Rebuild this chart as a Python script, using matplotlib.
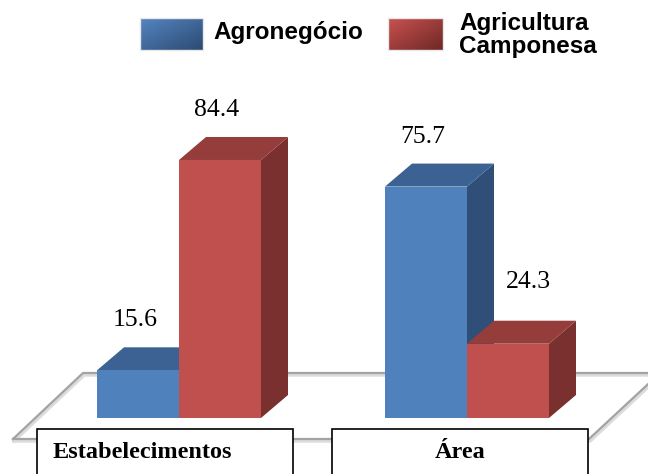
import matplotlib.pyplot as plt
import numpy as np
from matplotlib.patches import Polygon, Rectangle

# dados do grafico (%)
categorias = ["Estabelecimentos", "Área"]
series = ["Agronegócio", "Agricultura\nCamponesa"]
agronegocio = [15.6, 75.7]
camponesa = [84.4, 24.3]

# cores: frente, topo, lateral
cores_azul = ("#4f81bd", "#3b6292", "#2f4f78")
cores_verm = ("#c0504d", "#953d3b", "#7a302f")

fig = plt.figure(figsize=(6.48, 4.74), dpi=100)

# eixo de fundo em pixels (piso, caixas, legenda)
ax_bg = fig.add_axes([0, 0, 1, 1])
ax_bg.set_xlim(0, 648)
ax_bg.set_ylim(474, 0)
ax_bg.axis("off")

# eixo das barras: x em pixels, y em valores
ax = fig.add_axes([0, 0, 1, 1])
ax.set_xlim(0, 648)
escala = 3.057  # pixels por unidade
base = 418
ax.set_ylim((base - 474) / escala, base / escala)
ax.axis("off")
ax.patch.set_alpha(0)

# piso em perspectiva
piso = np.array([[13, 439], [83, 373], [660, 373], [589, 439], [13, 439]])
ax_bg.plot(piso[:, 0] + 1, piso[:, 1] + 2, color="#dcdcdc", lw=2.5, zorder=1)
ax_bg.plot(piso[:, 0], piso[:, 1], color="#a3a3a3", lw=1.6, zorder=2)

dx = 27
dy = 23 / escala
largura = 82
x_grupos = [97, 385]
# deslocamento extra dos rotulos (pixels) - o 24.3 fica mais acima/direita
desloc = [[(0, 0), (0, 0)], [(0, 0), (23, 12)]]


def barra3d(x0, h, cores):
    x1 = x0 + largura
    frente, topo, lado = cores
    ax.add_patch(Polygon([(x1, 0), (x1 + dx, dy), (x1 + dx, h + dy), (x1, h)],
                         closed=True, facecolor=lado, edgecolor="none"))
    ax.add_patch(Polygon([(x0, h), (x0 + dx, h + dy), (x1 + dx, h + dy), (x1, h)],
                         closed=True, facecolor=topo, edgecolor="none"))
    ax.bar(x0, h, width=largura, align="edge", color=frente, edgecolor="none")


for i, xg in enumerate(x_grupos):
    barra3d(xg, agronegocio[i], cores_azul)
    barra3d(xg + largura, camponesa[i], cores_verm)
    for j, v in enumerate([agronegocio[i], camponesa[i]]):
        ox, oy = desloc[i][j]
        ax.text(xg + largura * j + largura / 2 - 3 + ox, v + (50 + oy) / escala,
                f"{v:.1f}", ha="center", va="center", fontsize=18.5,
                family="Liberation Serif")

# caixas das categorias
caixas = [(37, 293), (332, 588)]
for (xa, xb), cat in zip(caixas, categorias):
    ax_bg.add_patch(Rectangle((xa, 429), xb - xa, 60, facecolor="white",
                              edgecolor="black", lw=1.2, zorder=5))
    if cat == "Estabelecimentos":
        ax_bg.text(xa + 16, 453, cat, ha="left", va="center", fontsize=17.5,
                   fontweight="bold", family="Liberation Serif", zorder=6)
    else:
        ax_bg.text((xa + xb) / 2, 453, cat, ha="center", va="center", fontsize=17.5,
                   fontweight="bold", family="Liberation Serif", zorder=6)

# legenda com gradiente
def quadrado(x0, x1, y0, y1, c_claro, c_escuro):
    g = np.linspace(0, 1, 50)
    t = (g[None, :] + g[:, None]) / 2
    a = np.array(plt.matplotlib.colors.to_rgb(c_claro))
    b = np.array(plt.matplotlib.colors.to_rgb(c_escuro))
    img = a[None, None, :] * (1 - t[..., None]) + b[None, None, :] * t[..., None]
    ax_bg.imshow(img, extent=(x0, x1, y1, y0), aspect="auto", zorder=3)
    ax_bg.add_patch(Rectangle((x0, y0), x1 - x0, y1 - y0, facecolor="none",
                              edgecolor="#e8e8e8", lw=1, zorder=4))


quadrado(140, 203, 18, 50, "#5585c2", "#2c4b72")
quadrado(388, 443, 18, 50, "#c9524f", "#6e2826")
ax_bg.text(213, 32, series[0], ha="left", va="center", fontsize=17.5,
           fontweight="bold", family="Liberation Sans")
ax_bg.text(459, 35, series[1], ha="left", va="center", fontsize=17.5,
           fontweight="bold", family="Liberation Sans", linespacing=0.95)

ax_bg.set_xlim(0, 648)
ax_bg.set_ylim(474, 0)

fig.savefig("out.png", dpi=100)
